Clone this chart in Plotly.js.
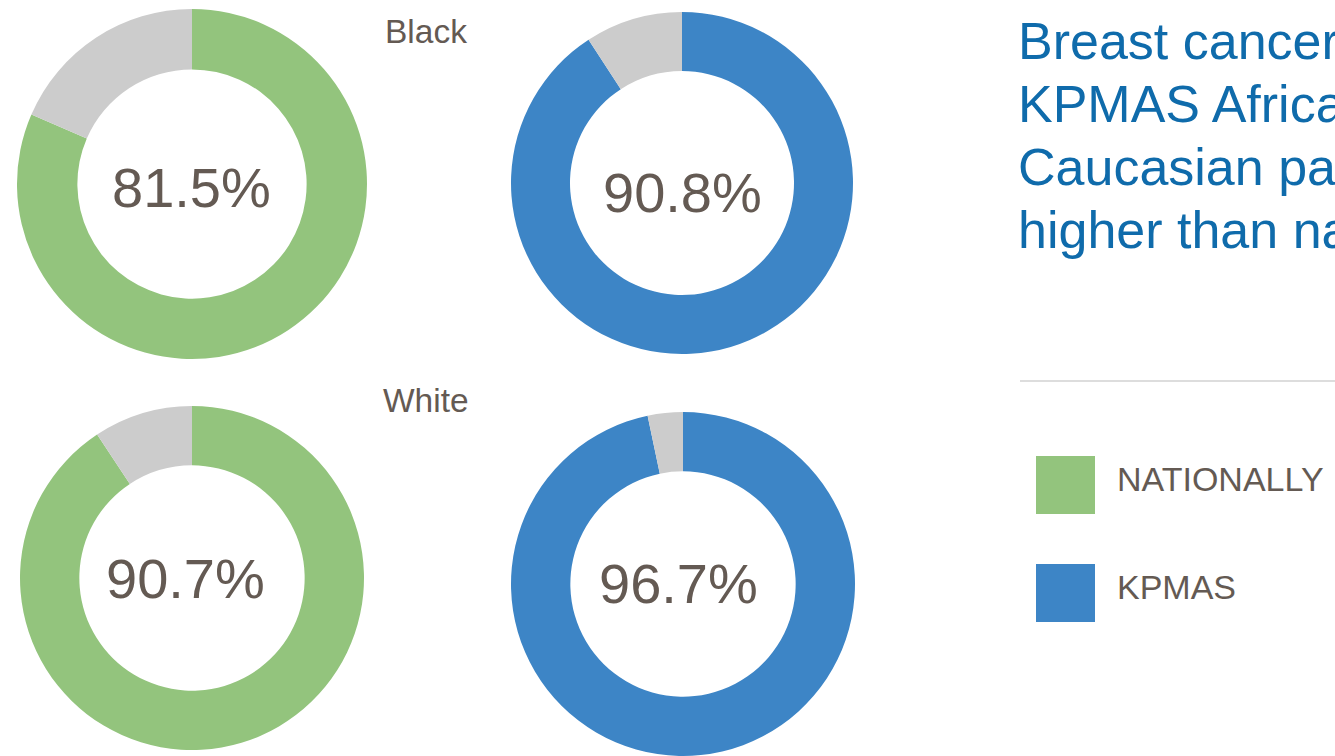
<!DOCTYPE html>
<html>
<head>
<meta charset="utf-8">
<script src="https://cdn.plot.ly/plotly-3.0.1.min.js"></script>
<style>
  html, body { margin: 0; padding: 0; background: #ffffff; overflow: hidden; }
  #chart { width: 1335px; height: 756px; }
</style>
</head>
<body>
<div id="chart"></div>
<script>
// ---- data ----
const groups = ['Black', 'White'];
const seriesNames = ['NATIONALLY', 'KPMAS'];
const nationally = [81.5, 90.7];
const kpmas = [90.8, 96.7];
const titleLines = [
  'Breast cancer screening rates for',
  'KPMAS African American and',
  'Caucasian patients are significantly',
  'higher than national rates'
];

// ---- styles / layout constants ----
const W = 1335, H = 756;
const seriesColors = ['#93c47d', '#3d85c6'];
const restColor = '#cccccc';
const textColor = '#645a53';
const titleColor = '#0f6bab';
const FONT = '"Liberation Sans", Arial, sans-serif';

// donut geometry in pixels: [row][series] -> {cx, cy, r, tx, ty}
const geom = [
  [{cx: 192, cy: 184, r: 175, tx: 191, ty: 188}, {cx: 682, cy: 183, r: 171, tx: 682, ty: 192}],
  [{cx: 192, cy: 578, r: 172, tx: 185, ty: 578}, {cx: 683, cy: 584, r: 172, tx: 679, ty: 583}]
];
const groupLabelPos = [{x: 426, y: 31}, {x: 426, y: 400}];
const titleTop = [10, 73, 136, 199];

const px = x => x / W;
const py = y => 1 - y / H;

const seriesValues = [nationally, kpmas];
const traces = [];
const annotations = [];

groups.forEach((g, gi) => {
  seriesValues.forEach((vals, si) => {
    const v = vals[gi];
    const gm = geom[gi][si];
    traces.push({
      type: 'pie',
      values: [v, 100 - v],
      labels: [seriesNames[si], 'Other'],
      sort: false,
      direction: 'clockwise',
      rotation: 0,
      hole: 0.655,
      textinfo: 'none',
      hoverinfo: 'label+value',
      showlegend: false,
      marker: {colors: [seriesColors[si], restColor], line: {width: 0}},
      domain: {x: [px(gm.cx - gm.r), px(gm.cx + gm.r)], y: [py(gm.cy + gm.r), py(gm.cy - gm.r)]}
    });
    annotations.push({
      xref: 'paper', yref: 'paper',
      x: px(gm.tx), y: py(gm.ty),
      xanchor: 'center', yanchor: 'middle',
      text: v.toFixed(1) + '%',
      showarrow: false,
      font: {family: FONT, size: 56, color: textColor}
    });
  });
  annotations.push({
    xref: 'paper', yref: 'paper',
    x: px(groupLabelPos[gi].x), y: py(groupLabelPos[gi].y),
    xanchor: 'center', yanchor: 'middle',
    text: g, showarrow: false,
    font: {family: FONT, size: 33.5, color: textColor}
  });
});

// title block (one annotation per line for tighter line spacing)
titleLines.forEach((line, i) => {
  annotations.push({
    xref: 'paper', yref: 'paper',
    x: px(1016), y: py(titleTop[i]),
    xanchor: 'left', yanchor: 'top', align: 'left',
    text: line,
    showarrow: false,
    font: {family: FONT, size: 52, color: titleColor}
  });
});

// legend
const shapes = [{
  type: 'line', xref: 'paper', yref: 'paper',
  x0: px(1020), x1: px(1335), y0: py(381), y1: py(381),
  line: {color: '#dddddd', width: 2}
}];
const legendY = [485, 593];
seriesNames.forEach((name, si) => {
  const cy = legendY[si];
  shapes.push({
    type: 'rect', xref: 'paper', yref: 'paper',
    x0: px(1036), x1: px(1095), y0: py(cy + 29), y1: py(cy - 29),
    fillcolor: seriesColors[si], line: {width: 0}
  });
  annotations.push({
    xref: 'paper', yref: 'paper',
    x: px(1115), y: py(cy - 6),
    xanchor: 'left', yanchor: 'middle',
    text: name, showarrow: false,
    font: {family: FONT, size: 34, color: textColor}
  });
});

const layout = {
  width: W, height: H,
  margin: {l: 0, r: 0, t: 0, b: 0},
  paper_bgcolor: '#ffffff',
  plot_bgcolor: '#ffffff',
  showlegend: false,
  annotations: annotations,
  shapes: shapes
};

Plotly.newPlot('chart', traces, layout, {displayModeBar: false, staticPlot: true});
</script>
</body>
</html>
